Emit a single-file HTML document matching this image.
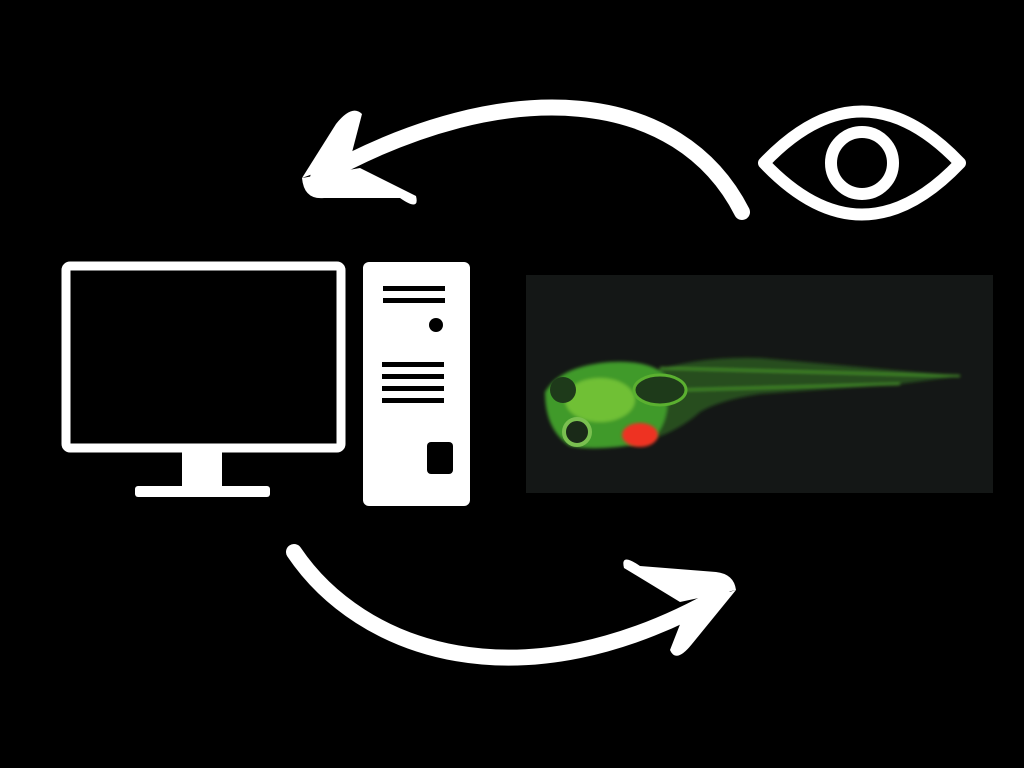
<!DOCTYPE html>
<html><head><style>html,body{margin:0;padding:0;background:#000;width:1024px;height:768px;overflow:hidden}</style></head>
<body>
<svg width="1024" height="768" viewBox="0 0 1024 768" xmlns="http://www.w3.org/2000/svg">
<defs>
<filter id="blur1"><feGaussianBlur stdDeviation="1.5"/></filter>
</defs>
<rect width="1024" height="768" fill="#000"/>
<!-- top arrow -->
<path d="M742 212 C680 90 510 70 318 178" fill="none" stroke="#fff" stroke-width="16" stroke-linecap="round"/>
<path d="M302 178 L336 124 Q352 104 362 114 L350 160 Z" fill="#fff"/>
<path d="M302 178 Q304 200 324 198 L400 198 Q420 212 416 196 L360 168 Z" fill="#fff"/>
<!-- bottom arrow -->
<path d="M294 552 C360 650 520 710 722 594" fill="none" stroke="#fff" stroke-width="16" stroke-linecap="round"/>
<path d="M736 590 L692 644 Q676 664 670 650 L688 604 Z" fill="#fff"/>
<path d="M736 590 Q734 574 716 572 L640 566 Q620 552 624 568 L680 602 Z" fill="#fff"/>
<!-- eye -->
<path d="M764 163 Q862 60 960 163 Q862 266 764 163 Z" fill="none" stroke="#fff" stroke-width="12" stroke-linejoin="round"/>
<circle cx="862" cy="163" r="31" fill="none" stroke="#fff" stroke-width="12"/>
<!-- monitor -->
<rect x="66" y="266" width="275" height="182" rx="4" fill="none" stroke="#fff" stroke-width="9"/>
<rect x="182" y="450" width="40" height="40" fill="#fff"/>
<rect x="135" y="486" width="135" height="11" rx="3" fill="#fff"/>
<!-- tower -->
<rect x="363" y="262" width="107" height="244" rx="6" fill="#fff"/>
<rect x="383" y="286" width="62" height="5" fill="#000"/>
<rect x="383" y="298" width="62" height="5" fill="#000"/>
<circle cx="436" cy="325" r="7" fill="#000"/>
<rect x="382" y="362" width="62" height="5" fill="#000"/>
<rect x="382" y="374" width="62" height="5" fill="#000"/>
<rect x="382" y="386" width="62" height="5" fill="#000"/>
<rect x="382" y="398" width="62" height="5" fill="#000"/>
<rect x="427" y="442" width="26" height="32" rx="4" fill="#000"/>
<!-- fish image -->
<rect x="526" y="275" width="467" height="218" fill="#141716"/>
<g filter="url(#blur1)">
<path d="M650 372 Q700 356 760 358 L960 376 L900 384 L760 394 Q720 400 700 412 Q680 430 650 440 Z" fill="#2a5a20" opacity="0.8"/>
<path d="M660 368 L960 376 M680 390 L900 384" fill="none" stroke="#4a9a2a" stroke-width="2"/>
<path d="M545 392 Q560 366 610 362 Q650 360 665 375 Q675 420 650 442 Q600 452 570 446 Q545 430 545 392 Z" fill="#3f9a2a"/>
<ellipse cx="600" cy="400" rx="35" ry="22" fill="#6fc035"/>
</g>
<ellipse cx="660" cy="390" rx="26" ry="15" fill="#1e3a1a" stroke="#5bb030" stroke-width="3"/>
<circle cx="577" cy="432" r="13" fill="#1a2a18" stroke="#7ac050" stroke-width="4"/>
<circle cx="563" cy="390" r="13" fill="#1e3a1a"/>
<ellipse cx="640" cy="435" rx="18" ry="12" fill="#ee3324" filter="url(#blur1)"/>
</svg>
</body></html>
